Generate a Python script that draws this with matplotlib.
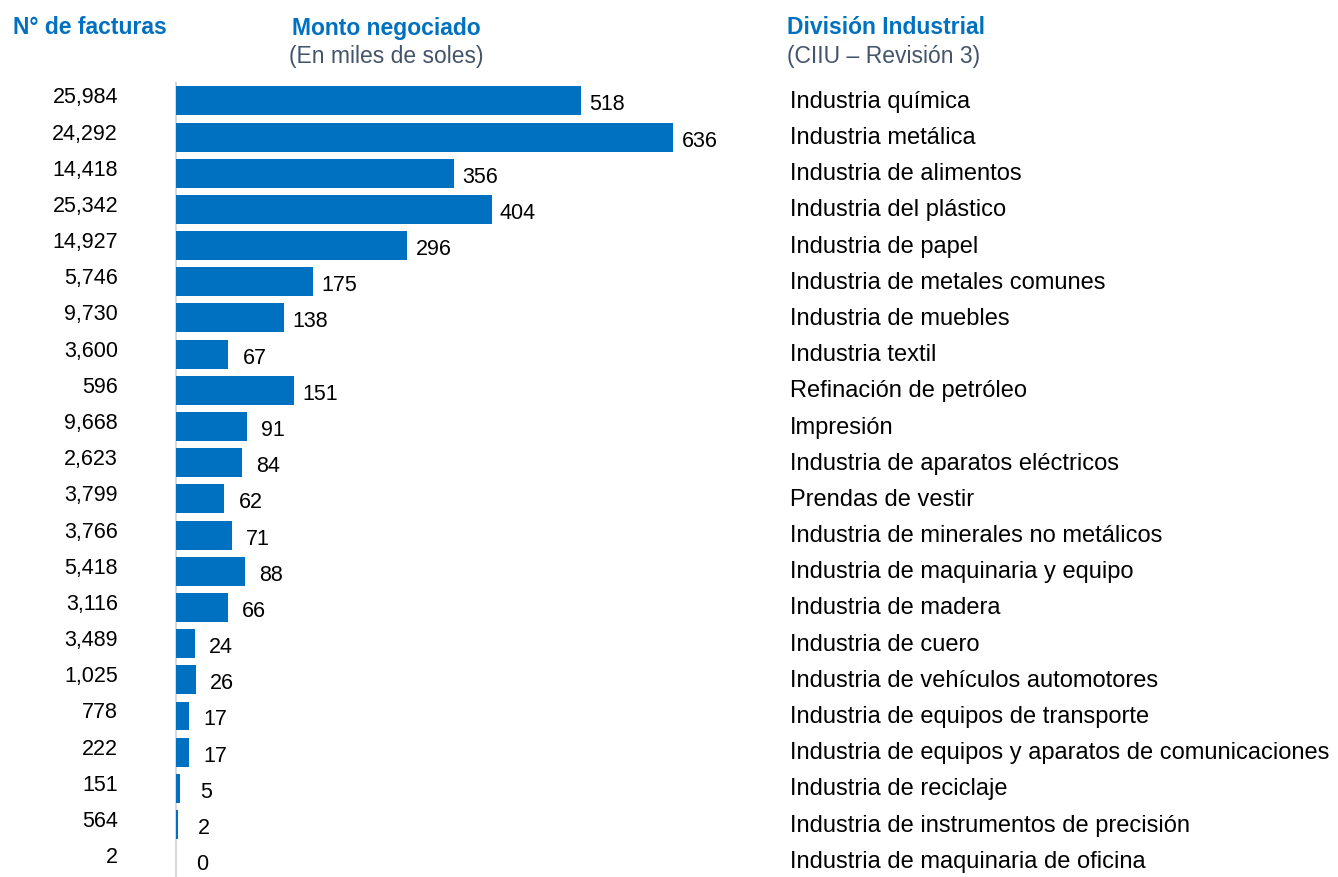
import matplotlib.pyplot as plt
import matplotlib.transforms as mtransforms
from matplotlib.transforms import ScaledTranslation

plt.rcParams['font.family'] = ['Liberation Sans', 'DejaVu Sans']

industrias = [
    "Industria química", "Industria metálica", "Industria de alimentos",
    "Industria del plástico", "Industria de papel", "Industria de metales comunes",
    "Industria de muebles", "Industria textil", "Refinación de petróleo",
    "Impresión", "Industria de aparatos eléctricos", "Prendas de vestir",
    "Industria de minerales no metálicos", "Industria de maquinaria y equipo",
    "Industria de madera", "Industria de cuero", "Industria de vehículos automotores",
    "Industria de equipos de transporte",
    "Industria de equipos y aparatos de comunicaciones",
    "Industria de reciclaje", "Industria de instrumentos de precisión",
    "Industria de maquinaria de oficina",
]
# monto negociado, miles de soles
monto = [518, 636, 356, 404, 296, 175, 138, 67, 151, 91, 84, 62, 71, 88, 66,
         24, 26, 17, 17, 5, 2, 0]
facturas = [25984, 24292, 14418, 25342, 14927, 5746, 9730, 3600, 596, 9668, 2623,
            3799, 3766, 5418, 3116, 3489, 1025, 778, 222, 151, 564, 2]

BLUE = '#0070C0'
GREY = '#44546A'
W, H = 1338, 878

fig = plt.figure(figsize=(W / 100, H / 100), dpi=100)
ax = fig.add_axes([176 / W, 0, 600 / W, (878 - 83.75) / H])

y = list(range(len(industrias)))
ax.barh(y, monto, height=0.8, color=BLUE, linewidth=0)
ax.set_xlim(0, 600 / 0.782)
ax.set_ylim(21.45, -0.5)
ax.set_xticks([])
ax.set_yticks([])
for s in ['top', 'right', 'bottom']:
    ax.spines[s].set_visible(False)
ax.spines['left'].set_color('#D9D9D9')
ax.spines['left'].set_linewidth(1.5)
ax.spines['left'].set_zorder(0)

fs = 15.5
for i, v in enumerate(monto):
    off = ScaledTranslation(26 / 100, -3 / 100, fig.dpi_scale_trans)
    ax.text(v, i, f"{v}", ha='center', va='center', fontsize=fs,
            transform=ax.transData + off)

bt = mtransforms.blended_transform_factory(fig.transFigure, ax.transData)
for i, (n, name) in enumerate(zip(facturas, industrias)):
    up = ScaledTranslation(0, 4 / 100, fig.dpi_scale_trans)
    ax.text(118 / W, i, f"{n:,}", ha='right', va='center', fontsize=fs,
            transform=bt + up)
    ax.text(790 / W, i, name, ha='left', va='center', fontsize=17,
            transform=bt)

hs = 16.5
fig.text(90 / W, 1 - 28 / H, "N° de facturas", ha='center', va='center',
         fontsize=hs, fontweight='bold', color=BLUE)
fig.text(386 / W, 1 - 28 / H, "Monto negociado", ha='center', va='center',
         fontsize=hs, fontweight='bold', color=BLUE)
fig.text(386 / W, 1 - 56 / H, "(En miles de soles)", ha='center', va='center',
         fontsize=hs, color=GREY)
fig.text(787 / W, 1 - 28 / H, "División Industrial", ha='left', va='center',
         fontsize=hs, fontweight='bold', color=BLUE)
fig.text(787 / W, 1 - 56 / H, "(CIIU – Revisión 3)", ha='left', va='center',
         fontsize=hs, color=GREY)

fig.savefig('out.png', dpi=100)
